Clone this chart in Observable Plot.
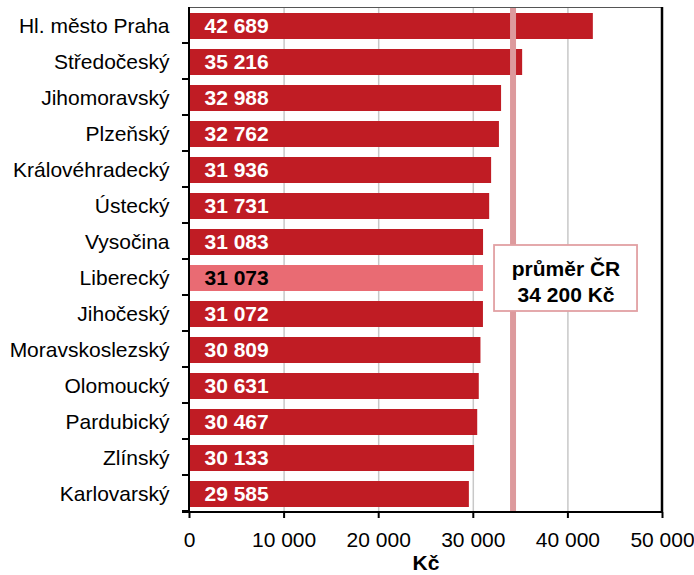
<!DOCTYPE html>
<html><head><meta charset="utf-8">
<script src="https://cdn.jsdelivr.net/npm/d3@7"></script>
<script src="https://cdn.jsdelivr.net/npm/@observablehq/plot@0.6"></script>
<style>body{margin:0;background:#fff} svg{display:block}</style>
</head><body><div id="chart"></div>
<script>
const regions = ["Hl. město Praha","Středočeský","Jihomoravský","Plzeňský","Královéhradecký","Ústecký","Vysočina","Liberecký","Jihočeský","Moravskoslezský","Olomoucký","Pardubický","Zlínský","Karlovarský"];
const wages = [42689,35216,32988,32762,31936,31731,31083,31073,31072,30809,30631,30467,30133,29585];
const highlight = "Liberecký";
const average = 34200;
const averageLabel = ["průměr ČR", "34 200 Kč"];
const xTicks = [0, 10000, 20000, 30000, 40000, 50000];
const gridTicks = [10000, 20000, 30000, 40000];
const xLabel = "Kč";

const data = regions.map((r, i) => ({region: r, wage: wages[i]}));
const fmt = d3.formatLocale({thousands: " ", grouping: [3], decimal: ","}).format(",d");

const W = 694, H = 575, mT = 7, mB = 63, mL = 189, mR = 32;
const FONT = "'Liberation Sans', Arial, Helvetica, sans-serif";
const RED = "#c01c24", PINK = "#e96b73", AVG = "#dd9a9d";

function decorations(index, scales) {
  const x = scales.x, y = scales.y;
  const step = y(regions[1]) - y(regions[0]);
  const off = y(regions[0]) - mT;
  const g = d3.create("svg:g");
  const x0 = x(0), x1 = x(50000), yb = H - mB;
  g.append("line").attr("x1", x0).attr("x2", x1).attr("y1", mT + 0.5).attr("y2", mT + 0.5)
    .attr("stroke", "#555").attr("stroke-width", 1.2);
  g.append("line").attr("x1", x1).attr("x2", x1).attr("y1", mT).attr("y2", yb)
    .attr("stroke", "#000").attr("stroke-width", 2.5);
  g.append("line").attr("x1", x0).attr("x2", x0).attr("y1", mT).attr("y2", yb + 1)
    .attr("stroke", "#000").attr("stroke-width", 2);
  regions.forEach(r => {
    const yy = y(r) - off + step;
    g.append("line").attr("x1", x0 - 7).attr("x2", x0).attr("y1", yy).attr("y2", yy)
      .attr("stroke", "#000").attr("stroke-width", 2);
  });
  g.append("line").attr("x1", x0 - 7).attr("x2", x1 + 1).attr("y1", yb).attr("y2", yb)
    .attr("stroke", "#000").attr("stroke-width", 2);
  return g.node();
}

function annotationBox(index, scales) {
  const x = scales.x, y = scales.y;
  const bw = y.bandwidth ? y.bandwidth() : (y(regions[1]) - y(regions[0])) * 0.72;
  const cx = x(average) + 53, cy = y(highlight) + bw / 2;
  const w = 143, h = 66;
  const g = d3.create("svg:g");
  g.append("rect").attr("x", cx - w / 2).attr("y", cy - h / 2).attr("width", w).attr("height", h)
    .attr("fill", "#fff").attr("stroke", "#e2a0a3").attr("stroke-width", 1.8);
  return g.node();
}

const plot = Plot.plot({
  width: W, height: H,
  marginTop: mT, marginBottom: mB, marginLeft: mL, marginRight: mR,
  style: {fontFamily: FONT, fontSize: "21px", color: "#000", background: "#fff"},
  x: {domain: [0, 50000], label: null},
  y: {domain: regions, paddingInner: 0.28, paddingOuter: 0.14, label: null},
  marks: [
    Plot.ruleX(gridTicks, {stroke: "#c8c8c8", strokeWidth: 1.5}),
    Plot.barX(data, {y: "region", x: "wage", fill: d => d.region === highlight ? PINK : RED}),
    Plot.ruleX([average], {stroke: AVG, strokeWidth: 6}),
    Plot.text(data, {y: "region", frameAnchor: "left", dx: 15, textAnchor: "start",
      text: d => fmt(d.wage), fill: d => d.region === highlight ? "#000" : "#fff",
      fontWeight: "bold", fontSize: 21}),
    annotationBox,
    Plot.text([{x: average, y: highlight, label: averageLabel.join("\n")}], {
      x: "x", y: "y", text: "label", dx: 53, dy: 2, lineHeight: 1.24,
      fontWeight: "bold", fontSize: 21, fill: "#000"}),
    Plot.axisY({tickSize: 0, tickPadding: 20, fontSize: 21}),
    Plot.axisX({ticks: xTicks, tickFormat: fmt, tickSize: 6, tickPadding: 14, stroke: "#000", strokeWidth: 2, fontSize: 21, label: null}),
    decorations,
    Plot.text([xLabel], {frameAnchor: "bottom", dy: 57, fontWeight: "bold", fontSize: 21, fill: "#000"})
  ]
});
document.getElementById("chart").append(plot);
</script>
</body></html>
